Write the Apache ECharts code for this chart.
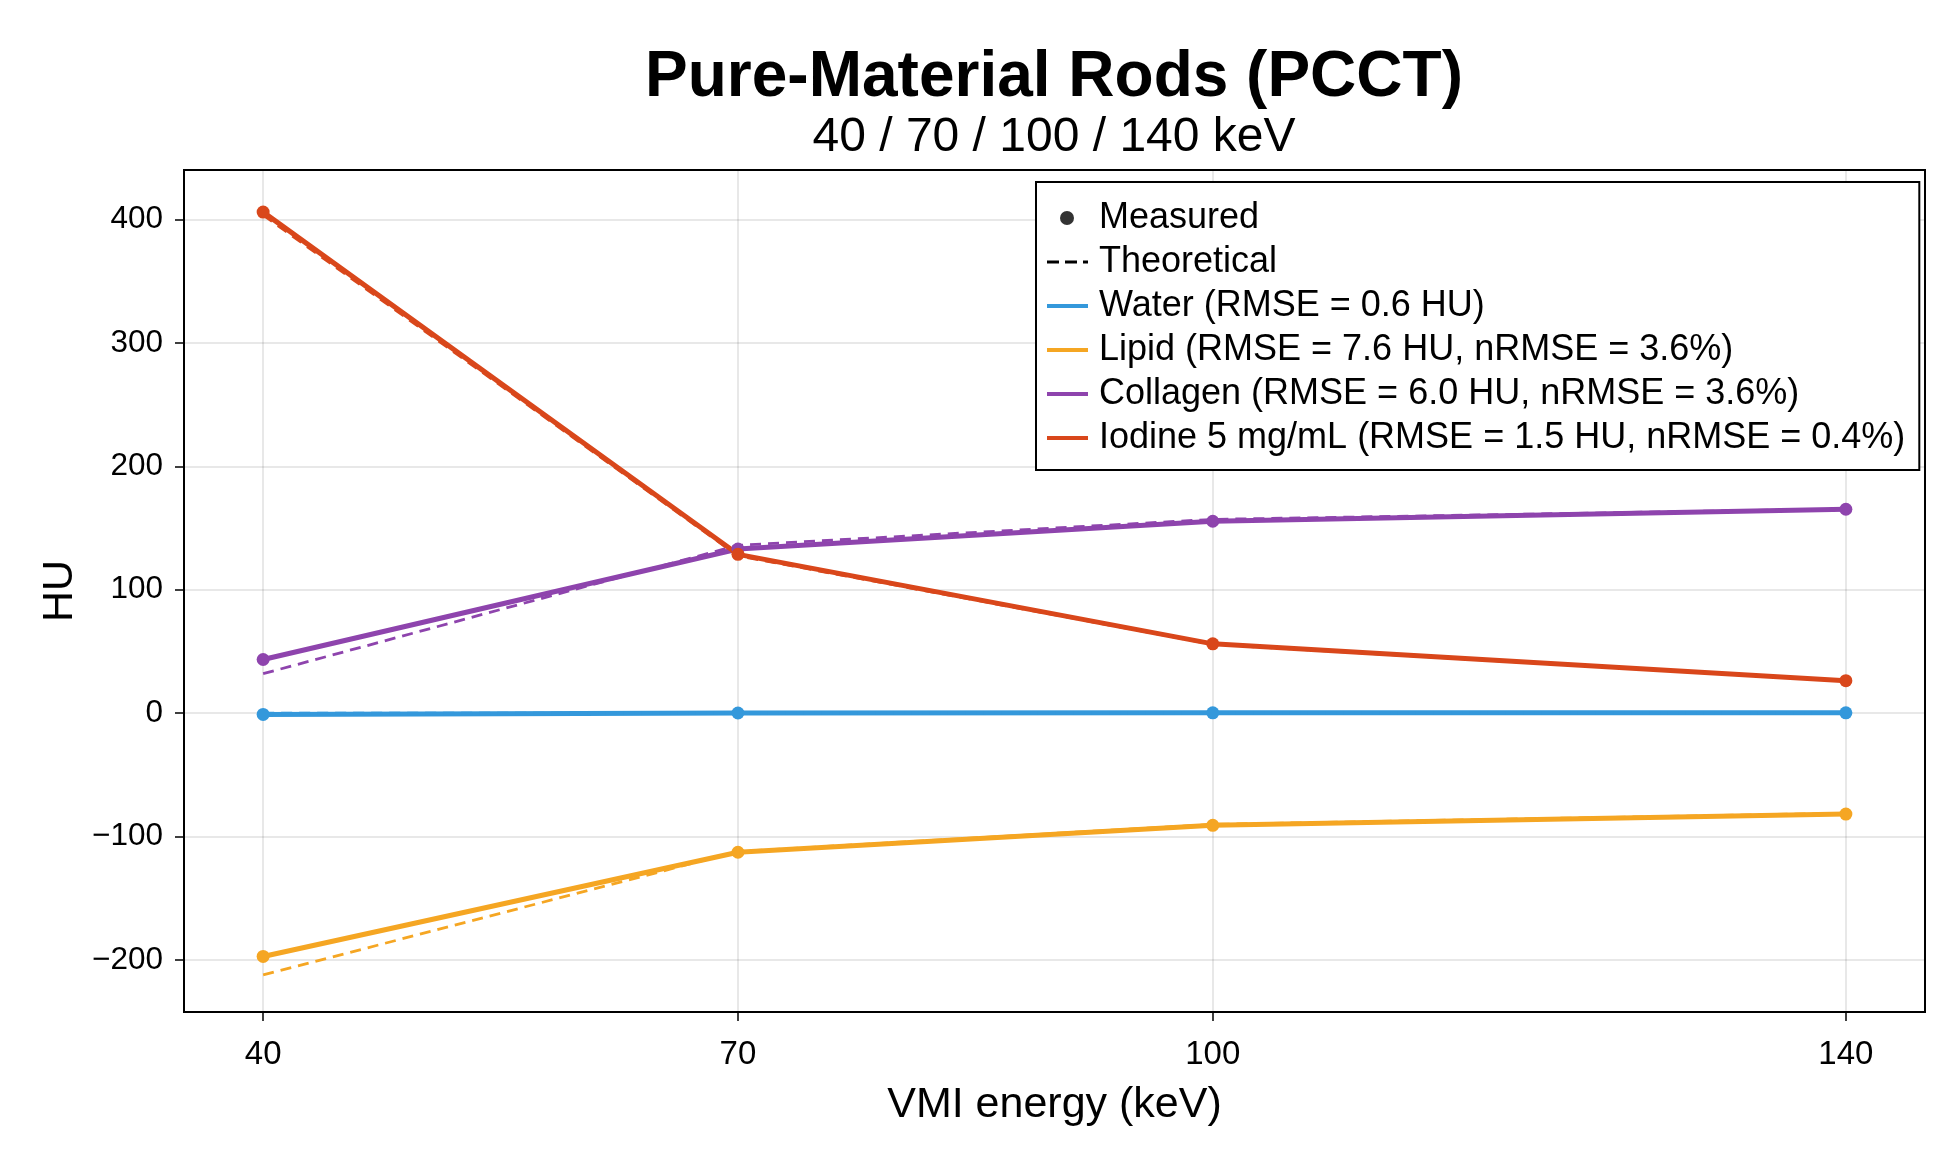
<!DOCTYPE html>
<html>
<head>
<meta charset="utf-8">
<script src="https://cdn.jsdelivr.net/npm/echarts@6/dist/echarts.min.js"></script>
<style>
  html, body { margin: 0; padding: 0; background: #fff; }
  #chart { width: 1960px; height: 1160px; }
</style>
</head>
<body>
<div id="chart"></div>
<script>
// VMI energies (keV)
const energies = [40, 70, 100, 140];

// measured / theoretical HU per material
const waterMeas = [-1.0, 0.2, 0.3, 0.3];
const waterTheo = [0, 0, 0, 0];
const lipidMeas = [-197, -112.6, -90.8, -81.7];
const lipidTheo = [-212, -112, -90, -81];
const collagenMeas = [43.5, 133, 155.5, 165.2];
const collagenTheo = [32, 136, 157, 165.5];
const iodineMeas = [405.9, 128.7, 56.2, 26.4];
const iodineTheo = [403.5, 127.5, 55.8, 26.2];

const xTicks = [40, 70, 100, 140];
const yTicks = [-200, -100, 0, 100, 200, 300, 400];

const names = {
  water: 'Water (RMSE = 0.6 HU)',
  lipid: 'Lipid (RMSE = 7.6 HU, nRMSE = 3.6%)',
  collagen: 'Collagen (RMSE = 6.0 HU, nRMSE = 3.6%)',
  iodine: 'Iodine 5 mg/mL (RMSE = 1.5 HU, nRMSE = 0.4%)'
};
const colors = {
  water: '#3498db',
  lipid: '#f5a623',
  collagen: '#8e44ad',
  iodine: '#d9471b'
};

const FONT = 'Liberation Sans';

const pairs = arr => energies.map((e, i) => [e, arr[i]]);

function measured(key, arr) {
  return {
    name: names[key],
    type: 'line',
    data: pairs(arr),
    color: colors[key],
    symbol: 'circle',
    symbolSize: 13,
    lineStyle: { width: 5 },
    silent: true,
    animation: false
  };
}
function theoretical(key, arr) {
  return {
    name: key + ' theoretical',
    type: 'line',
    data: pairs(arr),
    color: colors[key],
    showSymbol: false,
    lineStyle: { width: 2.8, type: [11, 7] },
    silent: true,
    animation: false
  };
}

// legend icons (47 x 16 box)
const box = 'M0,0 M47,16 ';
const iconDot = 'path://' + box + 'M27,8 A7,7 0 1,1 13,8 A7,7 0 1,1 27,8 Z';
const iconDash = 'path://' + box + 'M0,6.6h12v2.8h-12z M18,6.6h12v2.8h-12z M36,6.6h5v2.8h-5z';
const iconLine = 'path://' + box + 'M0,6h41v4h-41z';

const chart = echarts.init(document.getElementById('chart'));
const option = {
  backgroundColor: '#fff',
  animation: false,
  title: [
    {
      text: 'Pure-Material Rods (PCCT)',
      left: 1049, top: 41, textAlign: 'center',
      textStyle: { fontFamily: FONT, fontSize: 64, fontWeight: 'bold', color: '#000' }
    },
    {
      text: '40 / 70 / 100 / 140 keV',
      left: 1049, top: 109, textAlign: 'center',
      textStyle: { fontFamily: FONT, fontSize: 48, fontWeight: 'normal', color: '#000' }
    }
  ],
  grid: {
    left: 184, right: 35, top: 170, bottom: 148,
    show: true, borderColor: '#000', borderWidth: 2, backgroundColor: '#fff'
  },
  legend: {
    orient: 'vertical',
    left: 1036, top: 182,
    padding: [18, 14, 14, 11],
    itemGap: 8,
    itemWidth: 47, itemHeight: 16,
    borderColor: '#000', borderWidth: 2, backgroundColor: '#fff',
    selectedMode: false,
    itemStyle: { borderWidth: 0 },
    textStyle: { fontFamily: FONT, fontSize: 36, color: '#000', lineHeight: 34 },
    data: [
      { name: 'Measured', icon: iconDot },
      { name: 'Theoretical', icon: iconDash },
      { name: names.water, icon: iconLine },
      { name: names.lipid, icon: iconLine },
      { name: names.collagen, icon: iconLine },
      { name: names.iodine, icon: iconLine }
    ]
  },
  xAxis: {
    type: 'value',
    min: 35, max: 145,
    name: 'VMI energy (keV)',
    nameLocation: 'middle',
    nameGap: 72,
    nameTextStyle: { fontFamily: FONT, fontSize: 43, color: '#000' },
    axisLine: { show: true, onZero: false, lineStyle: { color: '#000', width: 2 } },
    axisTick: { show: true, length: 9, customValues: xTicks, lineStyle: { color: '#000', width: 1.5 } },
    axisLabel: { customValues: xTicks, margin: 26, fontFamily: FONT, fontSize: 33, color: '#000' },
    splitLine: { show: true, lineStyle: { color: 'rgba(0,0,0,0.12)', width: 1.5 } }
  },
  yAxis: {
    type: 'value',
    min: -242, max: 440,
    name: 'HU',
    nameLocation: 'middle',
    nameGap: 102,
    nameTextStyle: { fontFamily: FONT, fontSize: 43, color: '#000' },
    axisLine: { show: true, onZero: false, lineStyle: { color: '#000', width: 2 } },
    axisTick: { show: true, length: 9, customValues: yTicks, lineStyle: { color: '#000', width: 1.5 } },
    axisLabel: {
      customValues: yTicks, margin: 21, fontFamily: FONT, fontSize: 31.5, color: '#000',
      formatter: v => (v < 0 ? '\u2212' + Math.abs(v) : String(v))
    },
    splitLine: { show: true, lineStyle: { color: 'rgba(0,0,0,0.12)', width: 1.5 } }
  },
  series: [
    { name: 'Measured', type: 'scatter', data: [], color: '#000' },
    { name: 'Theoretical', type: 'line', data: [], color: '#000' },
    measured('water', waterMeas),
    theoretical('water', waterTheo),
    measured('lipid', lipidMeas),
    theoretical('lipid', lipidTheo),
    measured('collagen', collagenMeas),
    theoretical('collagen', collagenTheo),
    measured('iodine', iodineMeas),
    theoretical('iodine', iodineTheo)
  ]
};
chart.setOption(option);
</script>
</body>
</html>
